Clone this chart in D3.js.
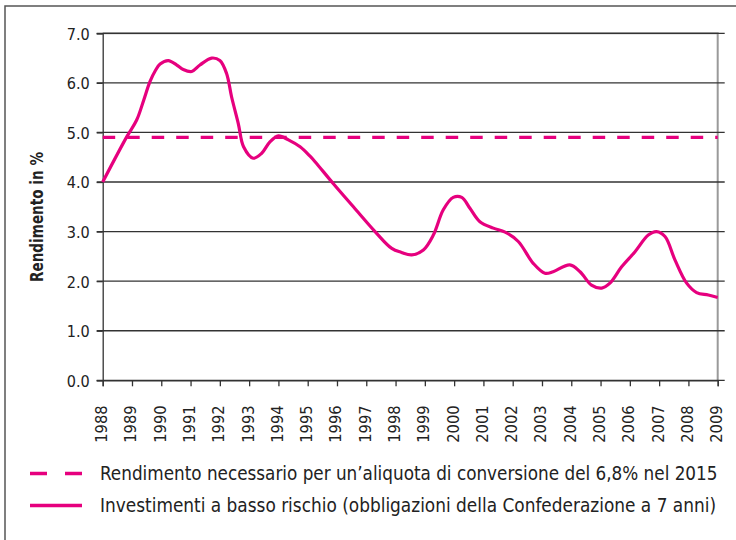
<!DOCTYPE html>
<html lang="it">
<head>
<meta charset="utf-8">
<script src="https://cdn.jsdelivr.net/npm/d3@7"></script>
<style>
  body { margin: 0; background: #fff; }
  svg { display: block; }
</style>
</head>
<body>
<div id="grafico"></div>
<script>
// Dati
const anni = [1988.00, 1988.82, 1989.16, 1989.40, 1989.61, 1989.80, 1989.96, 1990.24, 1990.53, 1990.75,
  1991.04, 1991.32, 1991.72, 1992.00, 1992.23, 1992.40, 1992.63, 1992.81, 1993.14, 1993.43,
  1993.71, 1994.00, 1994.34, 1994.74, 1995.08, 1995.25, 1995.87, 1996.56, 1997.30, 1997.87,
  1998.20, 1998.55, 1998.95, 1999.29, 1999.63, 1999.97, 2000.26, 2000.54, 2000.88, 2001.34,
  2001.74, 2002.19, 2002.70, 2003.10, 2003.38, 2003.95, 2004.30, 2004.69, 2005.04, 2005.32,
  2005.72, 2006.17, 2006.63, 2006.91, 2007.20, 2007.54, 2007.94, 2008.28, 2008.68, 2009.00];
const rendimenti = [4.00, 4.91, 5.25, 5.65, 6.02, 6.25, 6.38, 6.45, 6.36, 6.27,
  6.23, 6.36, 6.50, 6.45, 6.19, 5.72, 5.18, 4.71, 4.48, 4.58,
  4.81, 4.93, 4.85, 4.71, 4.52, 4.41, 3.97, 3.50, 3.00, 2.66,
  2.58, 2.53, 2.63, 2.93, 3.44, 3.69, 3.69, 3.47, 3.20, 3.07,
  2.99, 2.80, 2.36, 2.16, 2.19, 2.33, 2.19, 1.92, 1.86, 1.96,
  2.29, 2.59, 2.93, 3.00, 2.90, 2.43, 1.96, 1.77, 1.72, 1.67];
const necessario = 4.9;
const anniTick = d3.range(1988, 2010);
const yTick = [0, 1, 2, 3, 4, 5, 6, 7];
const legenda = [
  "Rendimento necessario per un\u2019aliquota di conversione del 6,8% nel 2015",
  "Investimenti a basso rischio (obbligazioni della Confederazione a 7 anni)"
];

const width = 736;
const height = 540;
const marginTop = 33.3;
const marginLeft = 102.7;
const plotRight = 717.7;
const plotBottom = 380.3;
const rosa = "#e6007e";
const font = "'DejaVu Sans Condensed', 'DejaVu Sans', sans-serif";

const svg = d3.select("#grafico")
  .append("svg")
  .attr("width", width)
  .attr("height", height);

// cornice esterna
svg.append("path")
  .attr("d", `M5,${height} V6 H${width}`)
  .attr("fill", "none")
  .attr("stroke", "#555")
  .attr("stroke-width", 1.5);

const xScale = d3.scaleLinear()
  .domain([1988, 2009])
  .range([marginLeft, plotRight]);

const yScale = d3.scaleLinear()
  .domain([0, 7])
  .range([plotBottom, marginTop]);

// bordo area grafico
svg.append("path")
  .attr("d", `M${marginLeft},${marginTop} H${plotRight} V${plotBottom}`)
  .attr("fill", "none")
  .attr("stroke", "#9a9a9a")
  .attr("stroke-width", 2);

// griglia
svg.append("g")
  .selectAll("line")
  .data(yTick)
  .join("line")
  .attr("x1", marginLeft - 6)
  .attr("x2", plotRight + 7)
  .attr("y1", d => yScale(d))
  .attr("y2", d => yScale(d))
  .attr("stroke", "#333")
  .attr("stroke-width", 1.3);

// asse y
const yAxis = svg.append("g")
  .attr("transform", `translate(${marginLeft},0)`)
  .call(d3.axisLeft(yScale).tickValues(yTick).tickFormat(d3.format(".1f")).tickSize(6).tickPadding(7));
yAxis.select(".domain").attr("stroke", "#333").attr("stroke-width", 1.3);
yAxis.selectAll(".tick line").attr("stroke", "#333").attr("stroke-width", 1.3);
yAxis.selectAll("text")
  .attr("fill", "#222")
  .attr("dy", "0.36em")
  .attr("textLength", 23)
  .attr("lengthAdjust", "spacingAndGlyphs")
  .style("font-family", font)
  .style("font-size", "16.5px");

// asse x
const xAxis = svg.append("g")
  .attr("transform", `translate(0,${plotBottom})`)
  .call(d3.axisBottom(xScale).tickValues(anniTick).tickFormat(d3.format("d")).tickSize(6));
xAxis.select(".domain").attr("stroke", "#333").attr("stroke-width", 1.3);
xAxis.selectAll(".tick line").attr("stroke", "#333").attr("stroke-width", 1.3);
xAxis.selectAll("text")
  .attr("transform", "rotate(-90)")
  .attr("x", -25)
  .attr("y", -2)
  .attr("dy", "0.36em")
  .attr("text-anchor", "end")
  .attr("textLength", 37.5)
  .attr("lengthAdjust", "spacingAndGlyphs")
  .attr("fill", "#222")
  .style("font-family", font)
  .style("font-size", "16.5px");

// titolo asse y
svg.append("text")
  .attr("transform", "translate(42.7,217) rotate(-90)")
  .attr("text-anchor", "middle")
  .attr("textLength", 130)
  .attr("lengthAdjust", "spacingAndGlyphs")
  .attr("fill", "#222")
  .style("font-family", font)
  .style("font-weight", "bold")
  .style("font-size", "18.5px")
  .text("Rendimento in %");

// linea tratteggiata
svg.append("line")
  .attr("x1", xScale(1988))
  .attr("x2", xScale(2009))
  .attr("y1", yScale(necessario))
  .attr("y2", yScale(necessario))
  .attr("stroke", rosa)
  .attr("stroke-width", 3.2)
  .attr("stroke-dasharray", "12.5,12");

// curva
const linea = d3.line()
  .x((d, i) => xScale(anni[i]))
  .y(d => yScale(d))
  .curve(d3.curveCatmullRom.alpha(0.5));

svg.append("path")
  .datum(rendimenti)
  .attr("d", linea)
  .attr("fill", "none")
  .attr("stroke", rosa)
  .attr("stroke-width", 3.2)
  .attr("stroke-linejoin", "round");

// legenda
const leg = svg.append("g");
leg.selectAll("line")
  .data(legenda)
  .join("line")
  .attr("x1", 30)
  .attr("x2", 82)
  .attr("y1", (d, i) => 473.5 + i * 32)
  .attr("y2", (d, i) => 473.5 + i * 32)
  .attr("stroke", rosa)
  .attr("stroke-width", 3.5)
  .attr("stroke-dasharray", (d, i) => i == 0 ? "17,18" : null);

leg.selectAll("text")
  .data(legenda)
  .join("text")
  .attr("x", 100)
  .attr("y", (d, i) => 480 + i * 32.3)
  .attr("textLength", (d, i) => i == 0 ? 617.5 : 616)
  .attr("lengthAdjust", "spacingAndGlyphs")
  .attr("fill", "#222")
  .style("font-family", font)
  .style("font-size", "18.8px")
  .text(d => d);
</script>
</body>
</html>
